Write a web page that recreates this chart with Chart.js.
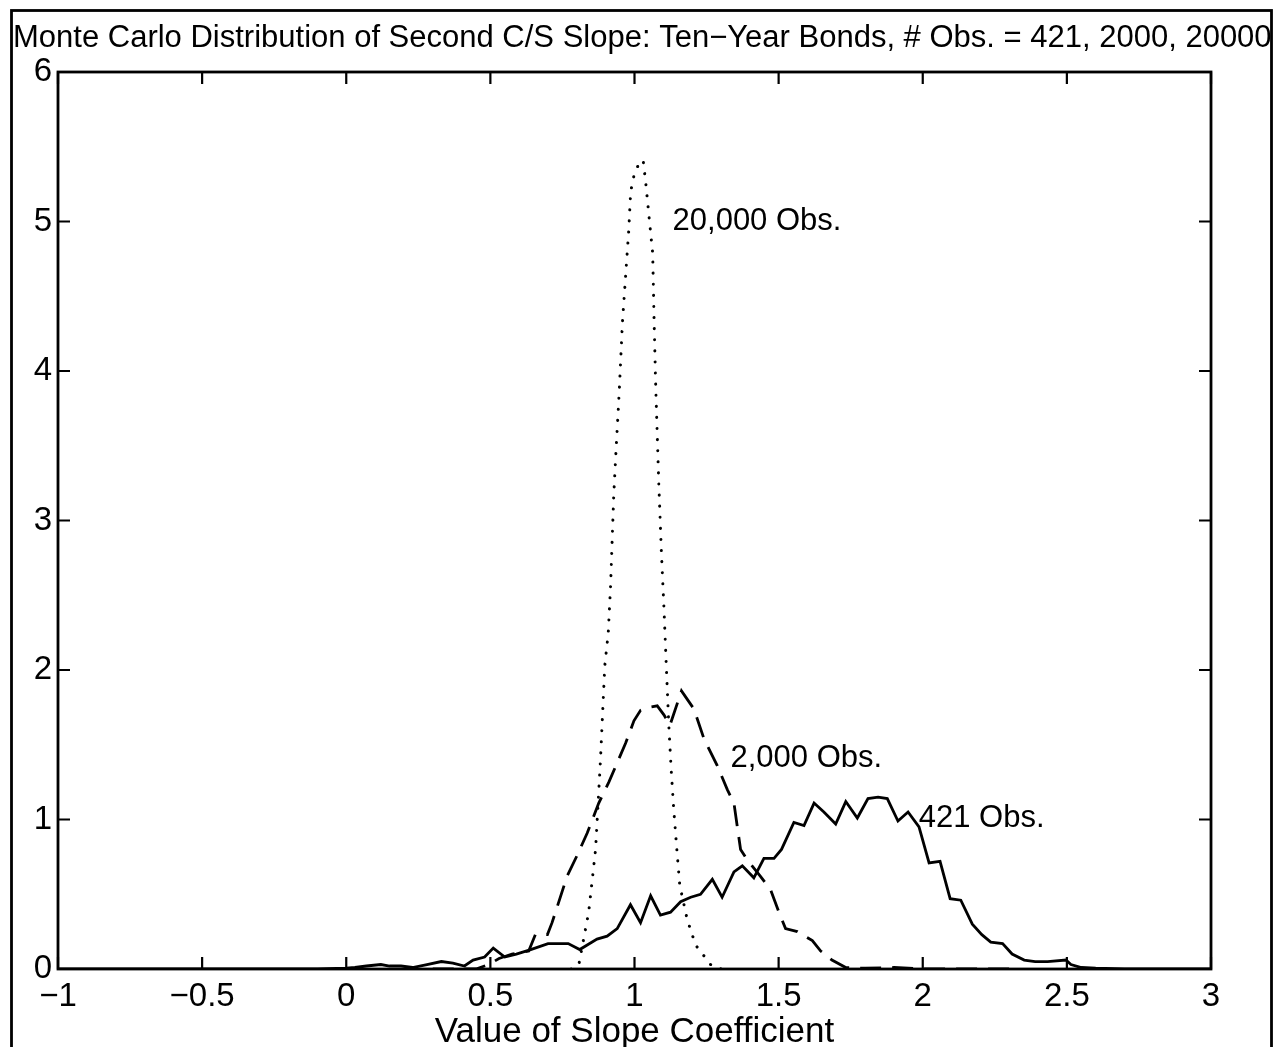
<!DOCTYPE html>
<html><head><meta charset="utf-8">
<script src="https://cdn.jsdelivr.net/npm/chart.js@4.4.1/dist/chart.umd.min.js"></script>
<style>html,body{margin:0;padding:0;background:#fff;}canvas{display:block;}</style>
</head><body>
<canvas id="c" width="1275" height="1047"></canvas>
<script>
const titleText = "Monte Carlo Distribution of Second C/S Slope: Ten\u2212Year Bonds, # Obs. = 421, 2000, 20000";
const xAxisLabel = "Value of Slope Coefficient";
const xTicks = [-1, -0.5, 0, 0.5, 1, 1.5, 2, 2.5, 3];
const yTicks = [0, 1, 2, 3, 4, 5, 6];

const obs421X = [-1.0, -0.1, 0.0, 0.03, 0.07, 0.12, 0.15, 0.19, 0.23, 0.28, 0.33, 0.37, 0.41, 0.44, 0.48, 0.51, 0.55, 0.59, 0.64, 0.70, 0.77, 0.81, 0.87, 0.905, 0.94, 0.986, 1.021, 1.056, 1.09, 1.125, 1.16, 1.195, 1.229, 1.27, 1.304, 1.345, 1.374, 1.414, 1.449, 1.484, 1.51, 1.553, 1.588, 1.623, 1.657, 1.698, 1.733, 1.773, 1.81, 1.845, 1.877, 1.914, 1.949, 1.987, 2.022, 2.06, 2.095, 2.132, 2.172, 2.205, 2.236, 2.277, 2.31, 2.352, 2.39, 2.433, 2.497, 2.514, 2.55, 2.6, 2.7, 3.0];
const obs421Y = [0, 0, 0.005, 0.01, 0.02, 0.03, 0.02, 0.02, 0.01, 0.03, 0.05, 0.04, 0.02, 0.06, 0.08, 0.14, 0.08, 0.10, 0.13, 0.17, 0.17, 0.13, 0.20, 0.22, 0.27, 0.43, 0.31, 0.49, 0.36, 0.38, 0.45, 0.48, 0.50, 0.60, 0.48, 0.65, 0.69, 0.61, 0.74, 0.74, 0.80, 0.98, 0.96, 1.11, 1.05, 0.97, 1.12, 1.01, 1.14, 1.15, 1.14, 0.99, 1.05, 0.95, 0.71, 0.72, 0.47, 0.46, 0.30, 0.23, 0.18, 0.17, 0.10, 0.06, 0.05, 0.05, 0.06, 0.03, 0.01, 0.005, 0, 0];

const obs2000X = [0.3, 0.45, 0.494, 0.53, 0.575, 0.633, 0.656, 0.698, 0.714, 0.766, 0.801, 0.836, 0.876, 0.911, 0.94, 0.969, 0.998, 1.021, 1.05, 1.079, 1.102, 1.123, 1.163, 1.206, 1.241, 1.287, 1.322, 1.345, 1.356, 1.368, 1.391, 1.437, 1.472, 1.501, 1.524, 1.565, 1.617, 1.646, 1.685, 1.733, 1.8, 1.9, 2.0, 2.3];
const obs2000Y = [0, 0, 0.03, 0.07, 0.10, 0.12, 0.23, 0.23, 0.31, 0.62, 0.76, 0.91, 1.11, 1.25, 1.38, 1.51, 1.66, 1.73, 1.75, 1.76, 1.70, 1.63, 1.86, 1.74, 1.54, 1.36, 1.20, 1.11, 0.96, 0.80, 0.73, 0.62, 0.53, 0.38, 0.27, 0.25, 0.19, 0.12, 0.06, 0.01, 0.005, 0.01, 0, 0];

const obs20000X = [0.78, 0.807, 0.841, 0.865, 0.882, 0.897, 0.909, 0.917, 0.928, 0.936, 0.947, 0.958, 0.969, 0.98, 0.986, 0.991, 1.0, 1.016, 1.03, 1.039, 1.051, 1.063, 1.068, 1.074, 1.084, 1.093, 1.102, 1.11, 1.119, 1.127, 1.136, 1.146, 1.157, 1.183, 1.212, 1.264, 1.3];
const obs20000Y = [0, 0.03, 0.38, 0.80, 1.40, 2.03, 2.25, 2.56, 3.17, 3.47, 3.86, 4.32, 4.63, 4.94, 5.17, 5.25, 5.32, 5.39, 5.41, 5.26, 5.02, 4.79, 4.33, 3.87, 3.26, 2.80, 2.42, 2.04, 1.63, 1.34, 1.07, 0.82, 0.56, 0.33, 0.16, 0.03, 0];

const noteTexts = ["20,000 Obs.", "2,000 Obs.", "421 Obs."];
const noteX = [1.132, 1.333, 1.986];
const noteY = [4.94, 1.35, 0.95];

const FONT = "'Liberation Sans', Arial, Helvetica, sans-serif";
const toPts = (xs, ys) => xs.map((x, i) => ({x: x, y: ys[i]}));

const boxPlugin = {
  id: 'matlabBox',
  afterDatasetsDraw(chart) {
    const ctx = chart.ctx, a = chart.chartArea;
    const xs = chart.scales.x, ys = chart.scales.y;
    ctx.save();
    ctx.strokeStyle = '#000';
    ctx.lineWidth = 2.8;
    ctx.strokeRect(a.left, a.top, a.right - a.left, a.bottom - a.top);
    ctx.lineWidth = 2.2;
    const tl = 12;
    ctx.beginPath();
    xTicks.forEach(v => {
      const px = xs.getPixelForValue(v);
      ctx.moveTo(px, a.bottom); ctx.lineTo(px, a.bottom - tl);
      ctx.moveTo(px, a.top); ctx.lineTo(px, a.top + tl);
    });
    yTicks.forEach(v => {
      const py = ys.getPixelForValue(v);
      ctx.moveTo(a.left, py); ctx.lineTo(a.left + tl, py);
      ctx.moveTo(a.right, py); ctx.lineTo(a.right - tl, py);
    });
    ctx.stroke();
    ctx.fillStyle = '#000';
    ctx.font = "31px " + FONT;
    ctx.textAlign = 'left';
    ctx.textBaseline = 'alphabetic';
    noteTexts.forEach((t, i) => {
      ctx.fillText(t, xs.getPixelForValue(noteX[i]), ys.getPixelForValue(noteY[i]));
    });
    ctx.restore();
  },
  afterDraw(chart) {
    const ctx = chart.ctx;
    ctx.save();
    ctx.fillStyle = '#000';
    ctx.font = "31px " + FONT;
    ctx.textAlign = 'left';
    ctx.textBaseline = 'alphabetic';
    ctx.fillText(titleText, 13, 47);
    ctx.strokeStyle = '#000';
    ctx.lineWidth = 2.8;
    ctx.strokeRect(11.5, 10.5, 1260, 1070);
    ctx.restore();
  }
};

new Chart(document.getElementById('c').getContext('2d'), {
  type: 'line',
  data: {
    datasets: [
      {label: '421 Obs.', data: toPts(obs421X, obs421Y), borderColor: '#000', borderWidth: 2.8, pointRadius: 0, tension: 0, fill: false},
      {label: '2,000 Obs.', data: toPts(obs2000X, obs2000Y), borderColor: '#000', borderWidth: 2.8, borderDash: [21, 11], pointRadius: 0, tension: 0, fill: false},
      {label: '20,000 Obs.', data: toPts(obs20000X, obs20000Y), borderColor: '#000', borderWidth: 3, borderDash: [0.1, 11], borderCapStyle: 'round', pointRadius: 0, tension: 0, fill: false}
    ]
  },
  options: {
    responsive: false,
    animation: false,
    devicePixelRatio: 1,
    layout: {padding: {left: 13, right: 64, top: 72, bottom: 0}},
    plugins: {
      legend: {display: false},
      tooltip: {enabled: false},
      title: {display: false}
    },
    scales: {
      x: {
        type: 'linear', min: -1, max: 3,
        afterBuildTicks: s => { s.ticks = xTicks.map(v => ({value: v})); },
        ticks: {font: {family: FONT, size: 33}, color: '#000', padding: 8, maxRotation: 0, autoSkip: false,
          callback: v => String(v).replace('-', '\u2212')},
        grid: {display: false, drawTicks: false},
        border: {display: false},
        title: {display: true, text: xAxisLabel, color: '#000', font: {family: FONT, size: 35, lineHeight: 0.85}, padding: {top: 0, bottom: 0}},
        afterFit: s => { s.height = 78; }
      },
      y: {
        type: 'linear', min: 0, max: 6,
        afterBuildTicks: s => { s.ticks = yTicks.map(v => ({value: v})); },
        ticks: {font: {family: FONT, size: 33}, color: '#000', padding: 6,
          callback: v => String(v).replace('-', '\u2212')},
        grid: {display: false, drawTicks: false},
        border: {display: false},
        afterFit: s => { s.width = 45; }
      }
    }
  },
  plugins: [boxPlugin]
});
</script>
</body></html>
